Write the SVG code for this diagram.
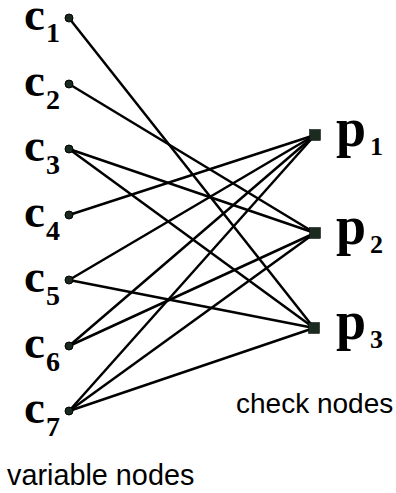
<svg xmlns="http://www.w3.org/2000/svg" width="396" height="493" viewBox="0 0 396 493">
<style>
.lbl{font-family:"Liberation Serif","Times New Roman",serif;font-weight:bold;fill:#000}
.big{font-size:47px}
.pbig{font-size:54px}
.sub{font-size:28px}
.psub{font-size:26px}
.cap{font-family:"Liberation Sans",Arial,sans-serif;font-size:28.8px;fill:#000}
.cap2{font-family:"Liberation Sans",Arial,sans-serif;font-size:28px;fill:#000}
.dot{fill:#1a2a1e;stroke:#000;stroke-width:1}
.sq{fill:#1b2b1f;stroke:#000;stroke-width:0.5}
.edge{stroke:#000;stroke-width:2.5;fill:none}
</style>
<rect width="396" height="493" fill="#fff"/>
<g id="connectors">
<line class="edge" x1="69" y1="18" x2="314" y2="328"/>
<line class="edge" x1="69" y1="84" x2="315" y2="233"/>
<line class="edge" x1="69" y1="149" x2="315" y2="233"/>
<line class="edge" x1="69" y1="149" x2="314" y2="328"/>
<line class="edge" x1="69" y1="215" x2="315" y2="135"/>
<line class="edge" x1="69" y1="280" x2="315" y2="135"/>
<line class="edge" x1="69" y1="280" x2="314" y2="328"/>
<line class="edge" x1="69" y1="346" x2="315" y2="135"/>
<line class="edge" x1="69" y1="346" x2="315" y2="233"/>
<line class="edge" x1="69" y1="411" x2="315" y2="135"/>
<line class="edge" x1="69" y1="411" x2="315" y2="233"/>
<line class="edge" x1="69" y1="411" x2="314" y2="328"/>
</g>
<g id="c1"><circle class="dot" cx="69" cy="18" r="4"/><text class="lbl big" x="24" y="30">c</text><text class="lbl sub" x="46" y="42">1</text></g>
<g id="c2"><circle class="dot" cx="69" cy="84" r="4"/><text class="lbl big" x="24" y="96">c</text><text class="lbl sub" x="46" y="109">2</text></g>
<g id="c3"><circle class="dot" cx="69" cy="149" r="4"/><text class="lbl big" x="24" y="161">c</text><text class="lbl sub" x="46" y="174">3</text></g>
<g id="c4"><circle class="dot" cx="69" cy="215" r="4"/><text class="lbl big" x="24" y="227">c</text><text class="lbl sub" x="46" y="240">4</text></g>
<g id="c5"><circle class="dot" cx="69" cy="280" r="4"/><text class="lbl big" x="24" y="292">c</text><text class="lbl sub" x="46" y="305">5</text></g>
<g id="c6"><circle class="dot" cx="69" cy="346" r="4"/><text class="lbl big" x="24" y="358">c</text><text class="lbl sub" x="46" y="371">6</text></g>
<g id="c7"><circle class="dot" cx="69" cy="411" r="4"/><text class="lbl big" x="24" y="423">c</text><text class="lbl sub" x="46" y="436">7</text></g>
<g id="p1"><rect class="sq" x="309.5" y="129.5" width="11" height="11"/><text class="lbl pbig" x="336" y="146">p</text><text class="lbl psub" x="370" y="155">1</text></g>
<g id="p2"><rect class="sq" x="309.5" y="227.5" width="11" height="11"/><text class="lbl pbig" x="336" y="244">p</text><text class="lbl psub" x="370" y="253">2</text></g>
<g id="p3"><rect class="sq" x="308.5" y="322.5" width="11" height="11"/><text class="lbl pbig" x="336" y="339">p</text><text class="lbl psub" x="370" y="348">3</text></g>
<g id="check-label"><text class="cap2" x="236" y="413">check nodes</text></g>
<g id="variable-label"><text class="cap" x="7" y="485">variable nodes</text></g>
</svg>
